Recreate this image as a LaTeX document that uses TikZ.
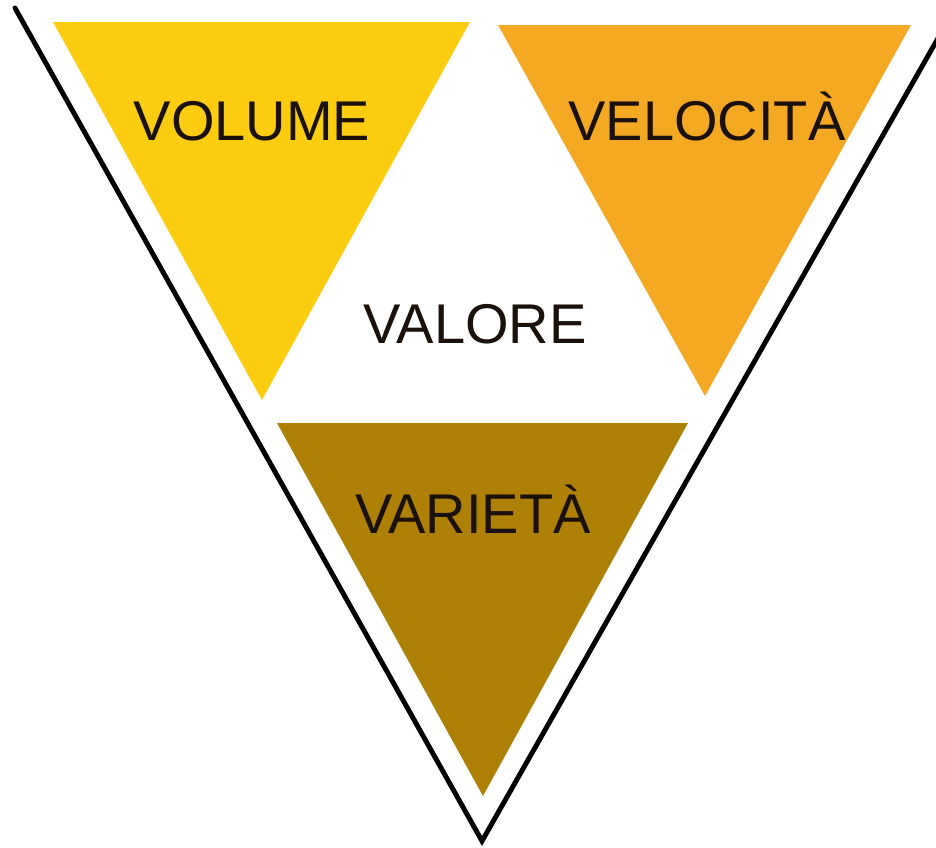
\documentclass[tikz,border=0pt]{standalone}
\usepackage{fontspec}
\setmainfont{Liberation Sans}
\definecolor{volcol}{HTML}{FBCC0F}
\definecolor{velcol}{HTML}{F5A923}
\definecolor{varcol}{HTML}{AE8005}
\definecolor{inkcol}{HTML}{1A120A}
\begin{document}
\begin{tikzpicture}[x=0.75pt,y=-0.75pt,
  label/.style={font=\fontsize{42}{42}\selectfont, text=inkcol, anchor=base, inner sep=0pt},
  vline/.style={line width=3.7pt, black, line cap=round}]
\useasboundingbox (0,0) rectangle (936,847);
\fill[white] (0,0) rectangle (936,847);
% three coloured triangles
\fill[volcol] (53,22) -- (470,22) -- (262,400) -- cycle;
\fill[velcol] (498,25) -- (911,25) -- (705,396) -- cycle;
\fill[varcol] (277,423) -- (688,423) -- (483,796) -- cycle;
% outer V
\coordinate (vl) at (15,8);
\coordinate (vr) at (962,-4);
\coordinate (apex) at (482,841);
\begin{scope}
\clip (0,0) rectangle (936,847);
\draw[vline] (vl) -- (apex) -- (vr);
\end{scope}
% labels
\node[label] (volume) at (252,140) {VOLUME};
\node[label] (velocita) at (707,140) {VELOCITÀ};
\node[label] (valore) at (475,343) {VALORE};
\node[label] (varieta) at (473,533) {VARIETÀ};
\end{tikzpicture}
\end{document}
